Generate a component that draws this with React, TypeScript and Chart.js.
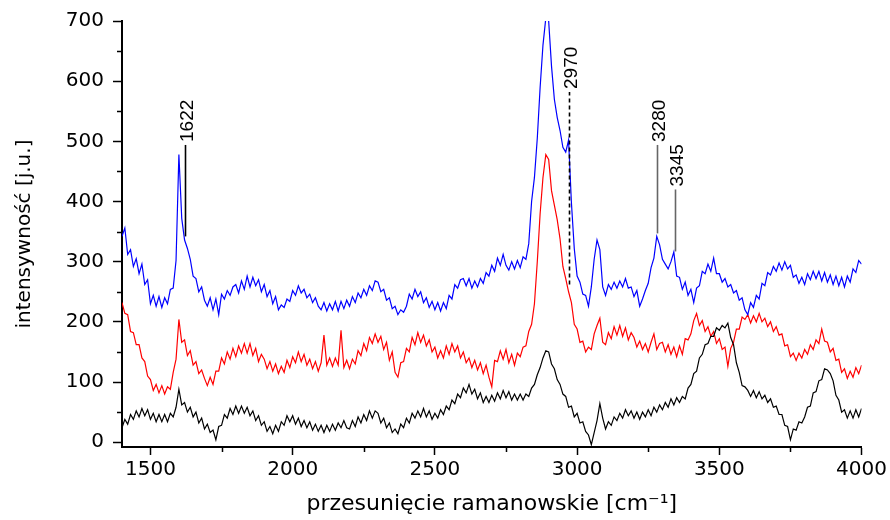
import React, { useEffect, useRef } from "react";
import { Chart, registerables } from "chart.js";

Chart.register(...registerables);

// Raman shift grid [cm^-1]
const wavenumbers = [
  1400, 1410, 1420, 1430, 1440, 1450, 1460, 1470, 1480, 1490,
  1500, 1510, 1520, 1530, 1540, 1550, 1560, 1570, 1580, 1590,
  1600, 1610, 1620, 1630, 1640, 1650, 1660, 1670, 1680, 1690,
  1700, 1710, 1720, 1730, 1740, 1750, 1760, 1770, 1780, 1790,
  1800, 1810, 1820, 1830, 1840, 1850, 1860, 1870, 1880, 1890,
  1900, 1910, 1920, 1930, 1940, 1950, 1960, 1970, 1980, 1990,
  2000, 2010, 2020, 2030, 2040, 2050, 2060, 2070, 2080, 2090,
  2100, 2110, 2120, 2130, 2140, 2150, 2160, 2170, 2180, 2190,
  2200, 2210, 2220, 2230, 2240, 2250, 2260, 2270, 2280, 2290,
  2300, 2310, 2320, 2330, 2340, 2350, 2360, 2370, 2380, 2390,
  2400, 2410, 2420, 2430, 2440, 2450, 2460, 2470, 2480, 2490,
  2500, 2510, 2520, 2530, 2540, 2550, 2560, 2570, 2580, 2590,
  2600, 2610, 2620, 2630, 2640, 2650, 2660, 2670, 2680, 2690,
  2700, 2710, 2720, 2730, 2740, 2750, 2760, 2770, 2780, 2790,
  2800, 2810, 2820, 2830, 2840, 2850, 2860, 2870, 2880, 2890,
  2900, 2910, 2920, 2930, 2940, 2950, 2960, 2970, 2980, 2990,
  3000, 3010, 3020, 3030, 3040, 3050, 3060, 3070, 3080, 3090,
  3100, 3110, 3120, 3130, 3140, 3150, 3160, 3170, 3180, 3190,
  3200, 3210, 3220, 3230, 3240, 3250, 3260, 3270, 3280, 3290,
  3300, 3310, 3320, 3330, 3340, 3350, 3360, 3370, 3380, 3390,
  3400, 3410, 3420, 3430, 3440, 3450, 3460, 3470, 3480, 3490,
  3500, 3510, 3520, 3530, 3540, 3550, 3560, 3570, 3580, 3590,
  3600, 3610, 3620, 3630, 3640, 3650, 3660, 3670, 3680, 3690,
  3700, 3710, 3720, 3730, 3740, 3750, 3760, 3770, 3780, 3790,
  3800, 3810, 3820, 3830, 3840, 3850, 3860, 3870, 3880, 3890,
  3900, 3910, 3920, 3930, 3940, 3950, 3960, 3970, 3980, 3990,
  4000,
];

const blueSpectrum = [
  342, 356, 312, 320, 292, 305, 280, 296, 262, 270,
  230, 244, 226, 242, 224, 240, 230, 254, 256, 302,
  478, 372, 336, 322, 304, 276, 272, 250, 258, 236,
  226, 240, 220, 238, 212, 246, 238, 252, 244, 258,
  262, 248, 268, 254, 276, 258, 274, 260, 270, 250,
  262, 242, 252, 230, 242, 220, 228, 224, 238, 234,
  252, 244, 260, 248, 254, 240, 246, 232, 240, 226,
  220, 232, 218, 230, 220, 234, 218, 234, 222, 236,
  226, 242, 232, 248, 240, 254, 244, 260, 252, 268,
  266, 250, 254, 236, 240, 222, 226, 212, 220, 216,
  226, 246, 238, 254, 242, 250, 232, 240, 224, 234,
  220, 232, 218, 232, 222, 244, 238, 262, 256, 270,
  272, 260, 272, 256, 268, 258, 272, 264, 282, 276,
  294, 284, 306, 294, 312, 294, 286, 300, 288, 302,
  290, 308, 304, 330, 400, 440, 505, 590, 660, 705,
  700, 625, 570, 540, 518, 490, 482, 502, 398, 322,
  276, 266, 246, 244, 226, 258, 304, 336, 320, 258,
  244, 262, 254, 266, 256, 268, 258, 272, 256, 258,
  242, 252, 226, 238, 252, 264, 290, 306, 342, 328,
  304, 296, 288, 300, 316, 276, 274, 254, 266, 244,
  254, 232, 256, 260, 284, 280, 296, 284, 306, 280,
  280, 266, 272, 258, 262, 248, 252, 236, 240, 220,
  212, 232, 224, 244, 238, 264, 260, 282, 278, 292,
  284, 298, 286, 300, 288, 294, 274, 278, 264, 274,
  262, 280, 270, 284, 272, 284, 268, 282, 266, 278,
  262, 276, 260, 274, 258, 276, 266, 288, 282, 302,
  296,
];

const redSpectrum = [
  232, 214, 212, 184, 182, 162, 162, 140, 134, 110,
  104, 86, 96, 82, 94, 80, 92, 88, 116, 138,
  204, 166, 170, 144, 152, 128, 134, 114, 120, 106,
  94, 108, 96, 118, 118, 140, 130, 150, 138, 156,
  142, 160, 148, 164, 148, 164, 144, 156, 134, 146,
  138, 122, 134, 118, 130, 114, 126, 116, 136, 124,
  142, 132, 150, 134, 146, 128, 138, 122, 134, 118,
  132, 178, 128, 140, 126, 140, 128, 186, 124, 136,
  122, 138, 130, 152, 144, 164, 152, 174, 164, 180,
  166, 176, 154, 166, 136, 150, 116, 108, 132, 134,
  156, 150, 174, 162, 182, 166, 178, 160, 170, 150,
  158, 140, 152, 140, 160, 146, 164, 150, 160, 140,
  150, 132, 140, 124, 136, 120, 132, 114, 128, 108,
  92, 136, 134, 152, 138, 154, 132, 146, 128, 148,
  142, 158, 160, 184, 196, 230, 300, 380, 440, 478,
  470, 418, 394, 370, 338, 292, 272, 250, 232, 196,
  188, 166, 168, 150, 158, 154, 180, 194, 206, 166,
  162, 182, 172, 192, 178, 194, 176, 190, 170, 182,
  174, 158, 168, 154, 164, 150, 166, 180, 154, 164,
  166, 150, 162, 146, 158, 142, 160, 146, 172, 170,
  180, 202, 214, 194, 202, 184, 192, 176, 184, 164,
  172, 154, 158, 126, 156, 166, 188, 188, 208, 204,
  212, 198, 210, 200, 214, 200, 206, 192, 200, 184,
  192, 178, 180, 160, 162, 142, 148, 136, 148, 140,
  154, 146, 162, 154, 170, 164, 188, 168, 166, 150,
  156, 136, 138, 116, 122, 106, 118, 108, 124, 114,
  128,
];

const blackSpectrum = [
  24, 38, 30, 46, 38, 52, 42, 56, 44, 54,
  38, 48, 34, 46, 34, 46, 34, 48, 42, 58,
  88, 62, 66, 50, 58, 42, 50, 32, 40, 22,
  30, 16, 20, 4, 26, 28, 46, 40, 56, 46,
  60, 48, 60, 48, 58, 44, 52, 36, 44, 28,
  34, 18, 26, 14, 28, 18, 34, 28, 44, 34,
  44, 30, 40, 26, 36, 24, 34, 20, 30, 18,
  28, 16, 28, 18, 30, 20, 32, 24, 36, 24,
  22, 36, 26, 42, 32, 46, 36, 52, 40, 52,
  48, 32, 40, 24, 32, 16, 22, 14, 30, 24,
  40, 32, 48, 40, 52, 42, 56, 42, 52, 38,
  48, 40, 54, 46, 60, 54, 70, 64, 80, 74,
  90, 82, 96, 80, 88, 72, 82, 66, 76, 66,
  78, 68, 82, 72, 86, 74, 84, 70, 80, 70,
  80, 70, 80, 76, 90, 96, 112, 124, 140, 152,
  150, 130, 122, 104, 96, 80, 76, 58, 60, 42,
  48, 32, 34, 18, 12, -4, 16, 36, 64, 40,
  22, 34, 28, 42, 36, 48, 40, 54, 44, 52,
  40, 50, 38, 50, 42, 54, 44, 58, 50, 62,
  54, 66, 58, 72, 62, 74, 66, 76, 72, 90,
  96, 114, 118, 140, 146, 162, 164, 176, 176, 190,
  186, 194, 190, 198, 174, 162, 132, 116, 94, 92,
  86, 76, 86, 74, 84, 72, 78, 66, 72, 58,
  60, 46, 46, 28, 26, 4, 22, 20, 34, 32,
  42, 58, 60, 82, 84, 102, 104, 122, 120, 114,
  102, 78, 70, 50, 54, 40, 52, 40, 54, 42,
  56,
];

const xMajorTicks = [1500, 2000, 2500, 3000, 3500, 4000];
const xMinorTicks = [1750, 2250, 2750, 3250, 3750];
const yMajorTicks = [0, 100, 200, 300, 400, 500, 600, 700];
const yMinorTicks = [50, 150, 250, 350, 450, 550, 650];

// Band markers
const peakLabels = ["1622", "2970", "3280", "3345"];
const peakPositions = [1622, 2970, 3280, 3345];
const peakLineBottom = [342, 262, 347, 317];
const peakLineTop = [494, 582, 494, 420];
const peakDashed = [false, true, false, false];
const peakColors = ["#000000", "#000000", "#666666", "#666666"];

const TICK_FONT = "'DejaVu Sans', sans-serif";

const annotationPlugin = {
  id: "bandMarkers",
  afterDatasetsDraw(chart: any) {
    const ctx = chart.ctx;
    const xs = chart.scales.x;
    const ys = chart.scales.y;
    ctx.save();
    for (let i = 0; i < peakLabels.length; i++) {
      const px = Math.round(xs.getPixelForValue(peakPositions[i])) + 0.5;
      const yb = ys.getPixelForValue(peakLineBottom[i]);
      const yt = ys.getPixelForValue(peakLineTop[i]);
      ctx.beginPath();
      ctx.strokeStyle = peakColors[i];
      ctx.lineWidth = 1.6;
      ctx.setLineDash(peakDashed[i] ? [4, 3] : []);
      ctx.moveTo(px, yb);
      ctx.lineTo(px, yt);
      ctx.stroke();
      ctx.setLineDash([]);
      ctx.save();
      ctx.translate(px + 2, yt - 3);
      ctx.rotate(-Math.PI / 2);
      ctx.fillStyle = "#000000";
      ctx.font = "19px 'Liberation Sans Narrow', 'Liberation Sans', Arial, sans-serif";
      ctx.textAlign = "left";
      ctx.textBaseline = "middle";
      ctx.fillText(peakLabels[i], 0, 0);
      ctx.restore();
    }
    ctx.restore();
  },
  afterDraw(chart: any) {
    const ctx = chart.ctx;
    const xs = chart.scales.x;
    const ys = chart.scales.y;
    const area = chart.chartArea;
    ctx.save();
    ctx.strokeStyle = "#000000";
    ctx.lineWidth = 1.5;
    ctx.beginPath();
    for (const v of xMinorTicks) {
      const px = Math.round(xs.getPixelForValue(v)) + 0.5;
      ctx.moveTo(px, area.bottom);
      ctx.lineTo(px, area.bottom + 5);
    }
    for (const v of yMinorTicks) {
      const py = Math.round(ys.getPixelForValue(v)) + 0.5;
      ctx.moveTo(area.left - 5, py);
      ctx.lineTo(area.left, py);
    }
    ctx.stroke();
    ctx.restore();
  },
};

function makeSeries(values: number[]) {
  return wavenumbers.map((x, i) => ({ x, y: values[i] }));
}

export default function App() {
  const canvasRef = useRef<HTMLCanvasElement>(null);

  useEffect(() => {
    document.body.style.margin = "0";
    const canvas = canvasRef.current!;
    const chart = new Chart(canvas, {
      type: "line",
      data: {
        datasets: [
          {
            label: "black",
            data: makeSeries(blackSpectrum),
            borderColor: "#000000",
            borderWidth: 1.2,
            pointRadius: 0,
            tension: 0,
          },
          {
            label: "blue",
            data: makeSeries(blueSpectrum),
            borderColor: "#0000ff",
            borderWidth: 1.2,
            pointRadius: 0,
            tension: 0,
          },
          {
            label: "red",
            data: makeSeries(redSpectrum),
            borderColor: "#ff0000",
            borderWidth: 1.2,
            pointRadius: 0,
            tension: 0,
          },
        ],
      },
      options: {
        responsive: false,
        animation: false,
        devicePixelRatio: 1,
        layout: { padding: { top: 19, right: 25, left: 0, bottom: 0 } },
        plugins: {
          legend: { display: false },
          tooltip: { enabled: false },
        },
        scales: {
          x: {
            type: "linear",
            min: 1400,
            max: 4000,
            afterBuildTicks: (scale: any) => {
              scale.ticks = xMajorTicks.map((v) => ({ value: v }));
            },
            afterFit: (scale: any) => {
              scale.height = 73;
            },
            ticks: {
              color: "#000000",
              font: { family: TICK_FONT, size: 20 },
              padding: 3,
              maxRotation: 0,
              autoSkip: false,
              callback: (v: any) => String(v),
            },
            grid: {
              display: true,
              drawOnChartArea: false,
              drawTicks: true,
              tickLength: 8,
              tickWidth: 1.5,
              tickColor: "#000000",
            },
            border: { display: true, color: "#000000", width: 2 },
            title: {
              display: true,
              text: "przesunięcie ramanowskie [cm⁻¹]",
              color: "#000000",
              font: { family: TICK_FONT, size: 22 },
              padding: { top: 0, bottom: 3 },
            },
          },
          y: {
            type: "linear",
            min: -8,
            max: 700,
            afterBuildTicks: (scale: any) => {
              scale.ticks = yMajorTicks.map((v) => ({ value: v }));
            },
            afterFit: (scale: any) => {
              scale.width = 122;
            },
            ticks: {
              color: "#000000",
              font: { family: TICK_FONT, size: 20 },
              padding: 9,
              autoSkip: false,
              callback: (v: any) => String(v),
            },
            grid: {
              display: true,
              drawOnChartArea: false,
              drawTicks: true,
              tickLength: 9,
              tickWidth: 1.5,
              tickColor: "#000000",
            },
            border: { display: true, color: "#000000", width: 2 },
            title: {
              display: true,
              text: "intensywność [j.u.]",
              color: "#000000",
              font: { family: TICK_FONT, size: 20 },
              padding: { top: 13, bottom: 0 },
            },
          },
        },
      },
      plugins: [annotationPlugin],
    } as any);
    return () => chart.destroy();
  }, []);

  return (
    <div style={{ position: "absolute", left: 0, top: 0, width: 890, height: 520 }}>
      <canvas ref={canvasRef} width={890} height={520} style={{ display: "block" }} />
    </div>
  );
}
